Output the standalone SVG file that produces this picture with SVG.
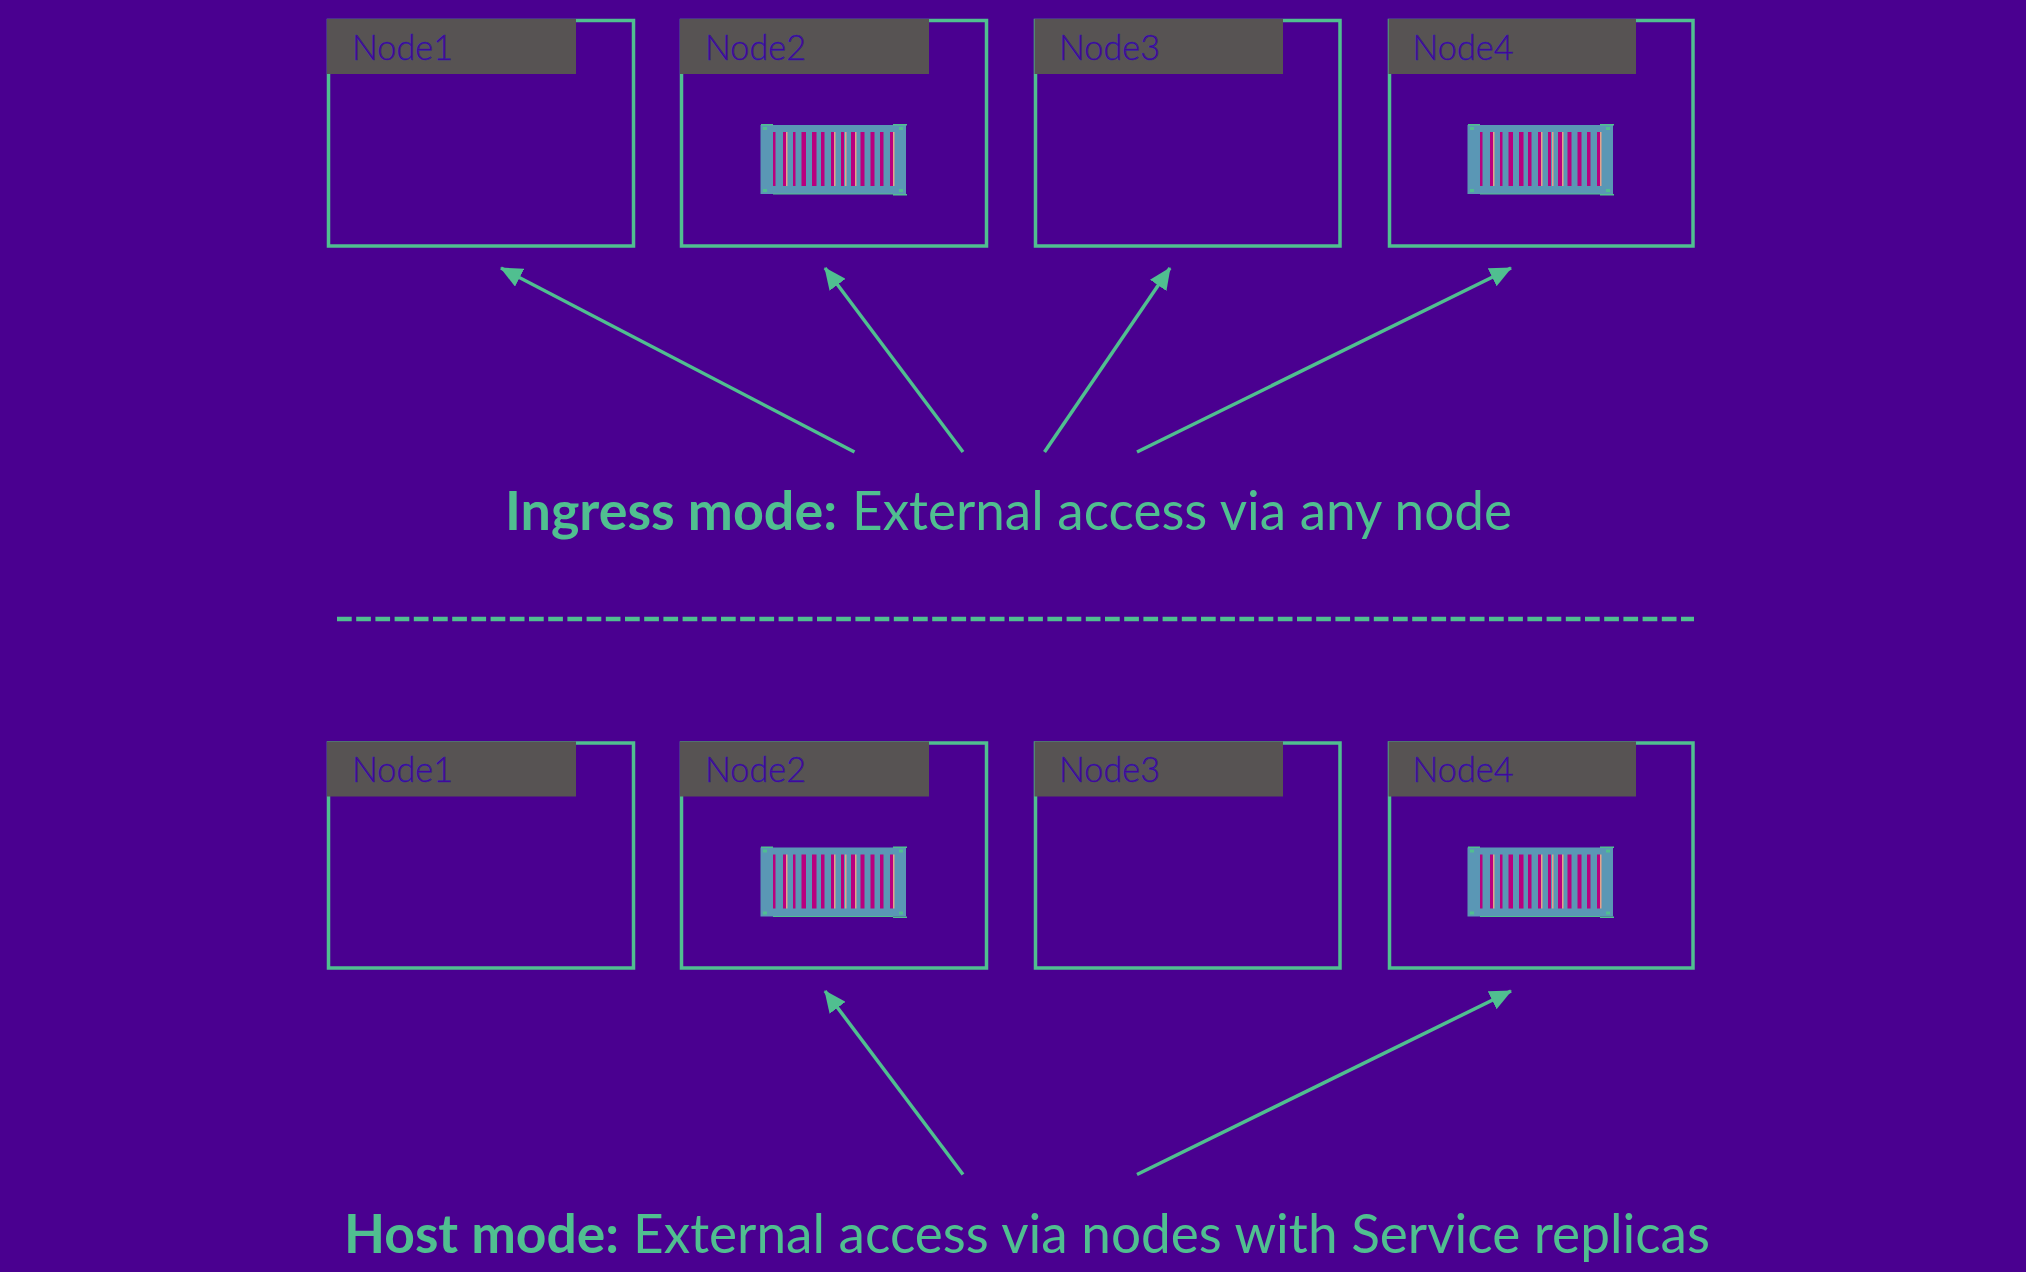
<svg xmlns="http://www.w3.org/2000/svg" xmlns:xlink="http://www.w3.org/1999/xlink" width="2026" height="1272" viewBox="0 0 2026 1272">
<style>
.frame{fill:none;stroke:#50bf90;stroke-width:3.500}
.head{fill:#575353}
.nlabel{font-family:Lato,"Liberation Sans",sans-serif;font-size:36px;font-weight:300;fill:#4a0090;stroke:#2a20b0;stroke-width:.5}
.caption{font-family:Lato,"Liberation Sans",sans-serif;font-size:54px;fill:#50bf90}
.b{font-weight:700}
.conn{stroke:#50bf90;stroke-width:3.500;fill:none;marker-end:url(#arr)}
.stripe{fill:#b8007f}
.edge{fill:#e8a08a}
.body{fill:#5a97b5}
.corner{fill:#50bf90}
</style>
<defs>
<marker id="arr" markerUnits="userSpaceOnUse" markerWidth="24" markerHeight="20" refX="21" refY="10" orient="auto"><path d="M0 0L22 10L0 20z" fill="#50bf90"/></marker>
<g id="container">
<rect class="body" x="760.500" y="125" width="145.500" height="69"/>
<path class="corner" d="M761 124h12v1.500h-12zM893 124h14v1.500h-14zM773 193.500h120v1h-120zM893 194h14v1.500h-14zM763 127h4v3h-4zM899 127h4v3h-4zM763 189h4v3h-4zM899 189h4v3h-4z"/>
<path class="stripe" d="M773 132h2.500v54h-2.500zM783 132h3v54h-3zM793 132h2.500v54h-2.500zM801.500 132h4.500v54h-4.500zM812 132h4.500v54h-4.500zM821 132h3.500v54h-3.500zM831 132h3v54h-3zM841 132h3v54h-3zM851 132h4v54h-4zM860.500 132h4v54h-4zM870.500 132h4v54h-4zM880 132h3.500v54h-3.500zM890 132h3v54h-3z"/>
<path class="edge" d="M786 132h1.500v54h-1.500zM834 132h1.500v54h-1.500zM845 132h1.500v54h-1.500zM855 132h1.500v54h-1.500zM893 132h1.500v54h-1.500z"/>
</g>
</defs>
<rect width="2026" height="1272" fill="#4a0090"/>

<g id="ingress-nodes">
<g id="i-node1"><rect class="frame" x="328.500" y="20.500" width="305" height="225.500"/><rect class="head" x="327" y="19" width="249" height="55"/><text class="nlabel" x="352" y="59.500" textLength="101" lengthAdjust="spacingAndGlyphs">Node1</text></g>
<g id="i-node2"><rect class="frame" x="681.500" y="20.500" width="305" height="225.500"/><rect class="head" x="680" y="19" width="249" height="55"/><text class="nlabel" x="705" y="59.500" textLength="101" lengthAdjust="spacingAndGlyphs">Node2</text><use href="#container"/></g>
<g id="i-node3"><rect class="frame" x="1035.500" y="20.500" width="304.500" height="225.500"/><rect class="head" x="1034.500" y="19" width="248.500" height="55"/><text class="nlabel" x="1059" y="59.500" textLength="101" lengthAdjust="spacingAndGlyphs">Node3</text></g>
<g id="i-node4"><rect class="frame" x="1389.500" y="20.500" width="303.500" height="225.500"/><rect class="head" x="1388.500" y="19" width="247.500" height="55"/><text class="nlabel" x="1412.500" y="59.500" textLength="101" lengthAdjust="spacingAndGlyphs">Node4</text><use href="#container" x="707"/></g>
</g>

<g id="host-nodes">
<g id="h-node1"><rect class="frame" x="328.500" y="743" width="305" height="225"/><rect class="head" x="327" y="741.500" width="249" height="55"/><text class="nlabel" x="352" y="781.500" textLength="101" lengthAdjust="spacingAndGlyphs">Node1</text></g>
<g id="h-node2"><rect class="frame" x="681.500" y="743" width="305" height="225"/><rect class="head" x="680" y="741.500" width="249" height="55"/><text class="nlabel" x="705" y="781.500" textLength="101" lengthAdjust="spacingAndGlyphs">Node2</text><use href="#container" y="722.500"/></g>
<g id="h-node3"><rect class="frame" x="1035.500" y="743" width="304.500" height="225"/><rect class="head" x="1034.500" y="741.500" width="248.500" height="55"/><text class="nlabel" x="1059" y="781.500" textLength="101" lengthAdjust="spacingAndGlyphs">Node3</text></g>
<g id="h-node4"><rect class="frame" x="1389.500" y="743" width="303.500" height="225"/><rect class="head" x="1388.500" y="741.500" width="247.500" height="55"/><text class="nlabel" x="1412.500" y="781.500" textLength="101" lengthAdjust="spacingAndGlyphs">Node4</text><use href="#container" x="707" y="722.500"/></g>
</g>

<g id="connectors">
<line class="conn" x1="854.500" y1="452" x2="501" y2="268"/>
<line class="conn" x1="963" y1="452" x2="825" y2="268"/>
<line class="conn" x1="1044.500" y1="452" x2="1170" y2="268"/>
<line class="conn" x1="1137" y1="452" x2="1511" y2="268"/>
<line class="conn" x1="963" y1="1174.500" x2="825" y2="991"/>
<line class="conn" x1="1137" y1="1174.500" x2="1511" y2="991"/>
<line id="divider" x1="337" y1="619" x2="1694" y2="619" stroke="#50bf90" stroke-width="4.500" stroke-dasharray="14.700 4.500"/>
</g>

<g id="captions">
<text class="caption b" x="505" y="530" textLength="332" lengthAdjust="spacingAndGlyphs">Ingress mode:</text>
<text class="caption" x="852" y="530" textLength="660" lengthAdjust="spacingAndGlyphs">External access via any node</text>
<text class="caption b" x="344" y="1253" textLength="275" lengthAdjust="spacingAndGlyphs">Host mode:</text>
<text class="caption" x="633" y="1253" textLength="1077" lengthAdjust="spacingAndGlyphs">External access via nodes with Service replicas</text>
</g>
</svg>
